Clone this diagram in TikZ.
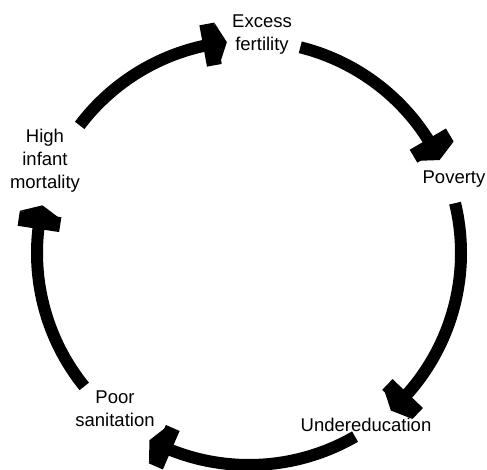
\documentclass[tikz,border=0pt]{standalone}
\usepackage{fontspec}
\setmainfont{Liberation Sans}
\usetikzlibrary{arrows.meta}
\usetikzlibrary{bending}
\tikzset{stage/.style = {align=center, inner sep=2bp,
                         font=\fontsize{18.5bp}{23bp}\selectfont}}
\tikzset{cycle arrow/.style = {line width=12bp,
                               -{Rectangle[width=42bp, length=15bp, line width=1.5bp, sep=-1bp]
                                 Triangle[width=42bp, length=10bp, line width=1.5bp, sep=0pt]}}}

\begin{document}
\begin{tikzpicture}[x=1bp, y=1bp]
    \useasboundingbox (0,0) rectangle (487,470);
    \coordinate (O) at (249,217);

    \node [stage] (fertility) at (262,435) {Excess\\fertility};
    \node [stage] (poverty) at (454,291) {Poverty};
    \node [stage] (education) at (366,45) {Undereducation};
    \node [stage] (sanitation) at (115,61) {Poor\\sanitation};
    \node [stage] (mortality) at (45,309) {High\\infant\\mortality};

    % arcs between the stages, angles measured from O
    \foreach \from/\to in {143/96, 76/26, 13.6/-48, -60/-118, -141/-193}
      \draw [cycle arrow] ([shift={(\from:212)}]O) arc [start angle=\from, end angle=\to, radius=212bp];
\end{tikzpicture}
\end{document}
